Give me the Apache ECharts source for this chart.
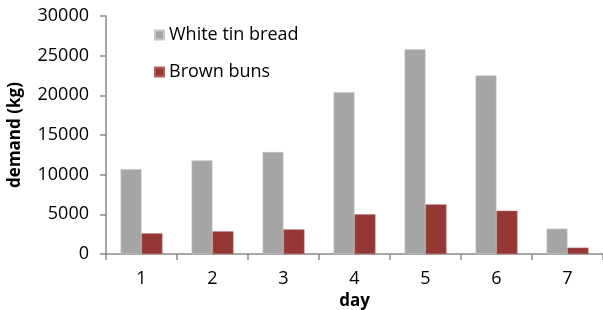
<!DOCTYPE html>
<html><head><meta charset="utf-8">
<script src="https://cdn.jsdelivr.net/npm/echarts@6/dist/echarts.min.js"></script>
<style>html,body{margin:0;padding:0;background:#fff}#c{width:603px;height:310px}</style>
</head><body><div id="c"></div>
<script>
const days = ['1','2','3','4','5','6','7'];
const whiteTinBread = [10700, 11800, 12850, 20400, 25800, 22500, 3200];
const brownBuns = [2600, 2850, 3100, 5000, 6250, 5450, 800];
const seriesNames = ['White tin bread', 'Brown buns'];
const font = 'Open Sans';
const chart = echarts.init(document.getElementById('c'), null, {renderer:'canvas'});
chart.setOption({
  animation:false,
  textStyle:{fontFamily:font},
  legend:{orient:'vertical', left:149, top:21, itemWidth:9, itemHeight:9, itemGap:19,
    icon:'rect', textStyle:{fontFamily:font, fontSize:18, color:'#000'}, data:seriesNames},
  grid:{left:106, right:0, top:16, bottom:56, containLabel:false, outerBoundsMode:'none'},
  xAxis:{type:'category', data:days, name:'day', nameLocation:'middle', nameGap:37,
    nameTextStyle:{fontFamily:font, fontSize:17, fontWeight:'bold', color:'#000'},
    axisLine:{lineStyle:{color:'#898989', width:1.5}},
    axisTick:{show:true, length:6, lineStyle:{color:'#898989', width:1.5}},
    axisLabel:{fontFamily:font, fontSize:18, color:'#000', margin:16}},
  yAxis:{type:'value', min:0, max:30000, interval:5000, name:'demand (kg)', nameLocation:'middle', nameGap:82,
    nameTextStyle:{fontFamily:font, fontSize:17, fontWeight:'bold', color:'#000'},
    splitLine:{show:false},
    axisLine:{show:true, lineStyle:{color:'#898989', width:1.5}},
    axisTick:{show:true, length:6, lineStyle:{color:'#898989', width:1.5}},
    axisLabel:{fontFamily:font, fontSize:18, color:'#000', margin:17, formatter:v => String(v)}},
  series:[
    {name:seriesNames[0], type:'bar', data:whiteTinBread, barGap:'0%', barCategoryGap:'41%',
     itemStyle:{color:'#A5A5A5', borderColor:'#C8C8C8', borderWidth:0.6}},
    {name:seriesNames[1], type:'bar', data:brownBuns, barGap:'0%', barCategoryGap:'41%',
     itemStyle:{color:'#953735', borderColor:'#B06060', borderWidth:0.6}}
  ]
});
</script></body></html>
